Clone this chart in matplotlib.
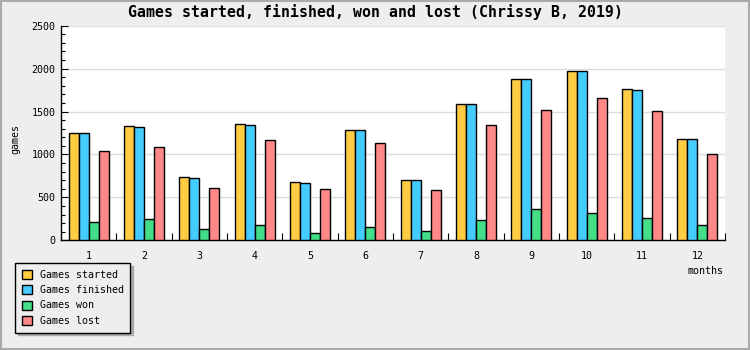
import matplotlib
matplotlib.use("Agg")
import matplotlib.pyplot as plt
import numpy as np
from matplotlib.patches import Rectangle
from matplotlib.ticker import MultipleLocator, FixedLocator, NullFormatter

months = [1, 2, 3, 4, 5, 6, 7, 8, 9, 10, 11, 12]
games_started = [1247, 1328, 734, 1351, 676, 1281, 699, 1588, 1875, 1969, 1759, 1177]
games_finished = [1247, 1316, 722, 1340, 664, 1281, 699, 1588, 1875, 1969, 1747, 1177]
games_won = [210, 245, 128, 175, 82, 151, 105, 233, 361, 315, 256, 175]
games_lost = [1037, 1083, 606, 1165, 594, 1130, 582, 1340, 1514, 1654, 1503, 1002]

series = [
    ("Games started", games_started, "#FFCC44"),
    ("Games finished", games_finished, "#44CCFF"),
    ("Games won", games_won, "#44DD88"),
    ("Games lost", games_lost, "#FF8888"),
]

W, H = 750, 350
FONT = "DejaVu Sans Mono"
BG = "#EEEEEE"

plt.rcParams["font.family"] = FONT

fig = plt.figure(figsize=(W / 100, H / 100), dpi=100, facecolor=BG)

# plot area in pixels
left, right, top, bottom = 61, 725, 25.7, 240.3
ax = fig.add_axes([left / W, 1 - bottom / H, (right - left) / W, (bottom - top) / H])
ax.set_facecolor("white")

x = np.array(months, dtype=float)
bar_w = 10 / ((right - left) / 12)
offsets = [-1.5, -0.5, 0.5, 1.5]
for (label, vals, color), off in zip(series, offsets):
    ax.bar(x + off * bar_w, vals, width=bar_w, color=color, edgecolor="black",
           linewidth=1.0, label=label, zorder=3)

ax.set_xlim(0.5, 12.5)
ax.set_ylim(0, 2500)

for s in ["top", "right"]:
    ax.spines[s].set_visible(False)
for s in ["left", "bottom"]:
    ax.spines[s].set_color("black")
    ax.spines[s].set_linewidth(1.0)

# y axis: major ticks every 500, minor every 100, drawn inward
ax.yaxis.set_major_locator(MultipleLocator(500))
ax.yaxis.set_minor_locator(MultipleLocator(100))
ax.tick_params(axis="y", which="major", direction="in", length=5, width=0.8,
               labelsize=7.2, pad=4)
ax.tick_params(axis="y", which="minor", direction="in", length=3, width=0.8)
ax.grid(axis="y", which="major", color="#DDDDDD", linewidth=1.0, zorder=0)

# x axis: labels at group centres, tick marks between groups
ax.xaxis.set_major_locator(FixedLocator(months))
ax.xaxis.set_minor_locator(FixedLocator(np.arange(1.5, 13, 1.0)))
ax.xaxis.set_minor_formatter(NullFormatter())
ax.tick_params(axis="x", which="major", length=0, labelsize=7.2, pad=8)
ax.tick_params(axis="x", which="minor", direction="in", length=5, width=0.8)

fig.text(375 / W, 1 - 12.5 / H, "Games started, finished, won and lost (Chrissy B, 2019)",
         ha="center", va="center", fontsize=10.7, fontweight="bold", family=FONT)
fig.text(15 / W, 1 - 139 / H, "games", rotation=90, ha="center", va="center",
         fontsize=7.2, family=FONT)
fig.text(706 / W, 1 - 271.5 / H, "months", ha="center", va="center",
         fontsize=7.2, family=FONT)

leg = fig.legend(loc="upper left", bbox_to_anchor=(15.3 / W, 1 - 263 / H),
                 bbox_transform=fig.transFigure, borderaxespad=0,
                 fontsize=7.2, frameon=True, fancybox=False,
                 shadow={"color": "#AAAAAA", "alpha": 1.0},
                 handlelength=1.0, handleheight=1.0, handletextpad=0.8,
                 borderpad=0.65, labelspacing=0.55)
leg.get_frame().set_facecolor(BG)
leg.get_frame().set_edgecolor("black")
leg.get_frame().set_linewidth(1.0)
leg.get_frame().set_alpha(1.0)

# outer frame of the image
fig.patches.append(Rectangle((0, 0), 1, 1, transform=fig.transFigure, fill=False,
                             edgecolor="#AAAAAA", linewidth=2.9, zorder=10))

fig.savefig("out.png", dpi=100, facecolor=BG)
